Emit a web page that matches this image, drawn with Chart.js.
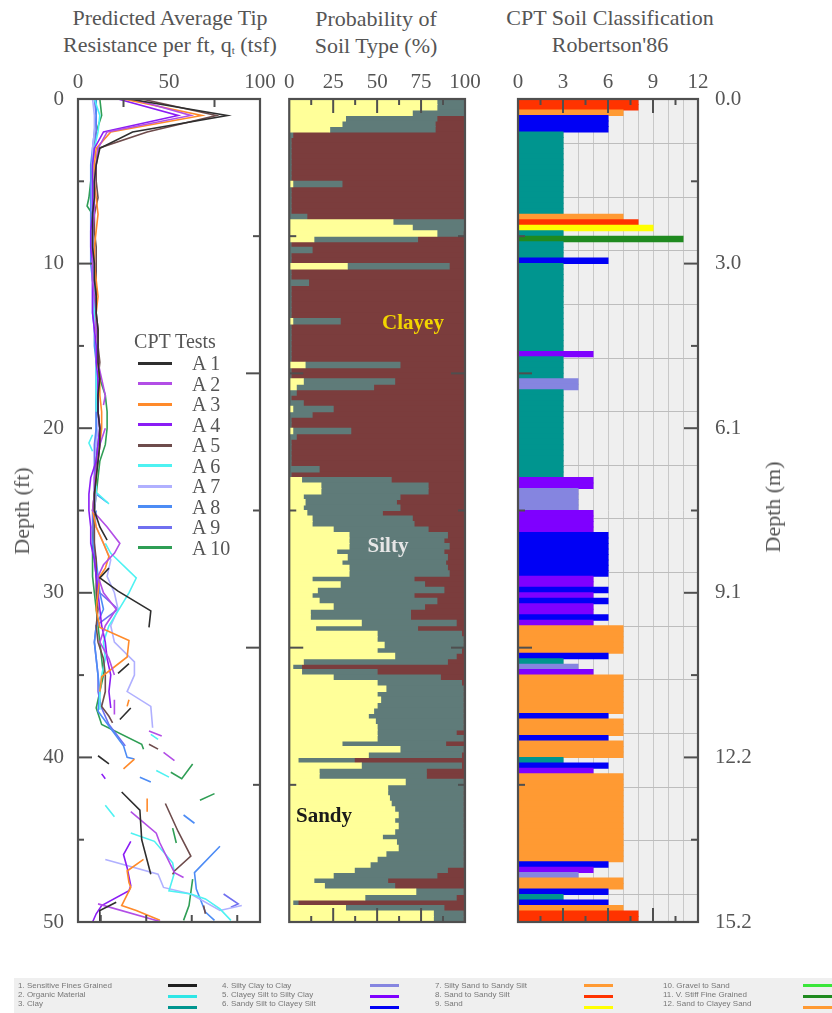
<!DOCTYPE html>
<html>
<head>
<meta charset="utf-8">
<script src="https://cdn.jsdelivr.net/npm/chart.js@4.4.0/dist/chart.umd.min.js"></script>
<style>
  html, body { margin: 0; padding: 0; background: #fff; }
  body { width: 832px; height: 1013px; position: relative; overflow: hidden; font-family: "Liberation Serif", "DejaVu Serif", serif; color: #555; }
  canvas { position: absolute; }
  .ttl { position: absolute; text-align: center; font-size: 22px; line-height: 27px; color: #555; white-space: nowrap; }
  .ttl sub { font-size: 11px; vertical-align: -2px; }
  .vlab { position: absolute; font-size: 22px; color: #555; white-space: nowrap; transform: translate(-50%, -50%) rotate(-90deg); }
  .ann { position: absolute; font-weight: bold; font-size: 21px; white-space: nowrap; transform: translate(-50%, -50%); }
  #lg { position: absolute; left: 0; top: 0; }
  .lgi { position: absolute; font-size: 20px; line-height: 20px; color: #555; white-space: nowrap; }
  .lgl { position: absolute; height: 3px; }
  #blg { position: absolute; left: 14px; top: 978px; width: 818px; height: 35px; background: #efefef; }
  .bt { position: absolute; font-family: "Liberation Sans", Arial, sans-serif; font-size: 8px; line-height: 9px; color: #777; white-space: nowrap; filter: blur(0.4px); }
  .bl { position: absolute; height: 3px; width: 29px; filter: blur(0.5px); }
</style>
</head>
<body>
<div class="ttl" style="left:20px;top:4px;width:300px;">Predicted Average Tip<br>Resistance per ft, q<sub>t</sub> (tsf)</div>
<div class="ttl" style="left:276px;top:5px;width:200px;">Probability of<br>Soil Type (%)</div>
<div class="ttl" style="left:460px;top:4px;width:300px;">CPT Soil Classification<br>Robertson'86</div>

<canvas id="c1" width="280" height="892" style="left:0;top:60px;"></canvas>
<canvas id="c2" width="205" height="892" style="left:280px;top:60px;"></canvas>
<canvas id="c3" width="270" height="892" style="left:500px;top:60px;"></canvas>

<div class="vlab" style="left:22px;top:511px;">Depth (ft)</div>
<div class="vlab" style="left:773px;top:507px;">Depth (m)</div>

<div class="ann" style="left:413px;top:322px;color:#f2d500;">Clayey</div>
<div class="ann" style="left:388px;top:545px;color:#e6e6e6;">Silty</div>
<div class="ann" style="left:324px;top:815px;color:#1a1a1a;">Sandy</div>

<div id="lg"></div>
<div id="blg"></div>

<script>
// ---------------- DATA ----------------
// Left panel: predicted average tip resistance, [depth ft, q_t tsf], null = gap
const A1 = [[0,28],[1,82],[2,30],[3,12],[4,10],[5,9],[6,9],[7,8],[8,8],[9,8],[10,9],[11,9],[12,10],[13,10],[14,11],[15,11],[16,11],[17,12],[18,11],[19,11],[20,12],[21,12],[22,11],[23,10],[24,9],[25,9],[26,12],[26.8,16],null,[28.5,17],[29.1,12],[29.9,22],[31.1,40],[32.1,39],null,[34.3,28],[34.9,22],null,[37,29],[37.7,23],null,[39.9,11],[40.4,17],null,[42.1,24],[43.2,34],[45,35],[47.1,40],null,[48.8,21],[49.3,12],[50,12]];
const A2 = [[0,30],[1,62],[2,16],[3,11],[4,10],[5,9],[6,9],[7,9],[8,8],[9,8],[10,8],[11,8],[12,9],[13,10],[14,10],[15,11],[16,11],[17,13],[18,15],[18.6,14],null,[20,15],[21,12],[22,11],[23,9],[24,9],[25,8],[26,16],[27,23],[27.6,20],[28.3,14],[29,11],[30,14],[31,21],[32,15],[33,12],[34,17],[35,20],null,[36.5,20],[37.4,20],null,[38.4,39],[38.7,46],null,[39.7,47],[40.2,53],null,[43.3,29],[44.6,43],[45.2,45],[47,53],[47.3,58],null,[48.9,11],[50,46]];
const A3 = [[0,25],[1,68],[2,18],[3,10],[4,9],[5,9],[6,10],[7,11],[8,10],[9,9],[10,9],[11,10],[12,11],[13,10],[14,10],[15,11],[16,11],[17,12],[18,12],[19,13],[20,13],[21,12],[22,11],[23,10],[24,9],[25,8],[26,10],[27,14],[27.8,17],[28.5,15],[29,12],[30,11],[31,10],[32.1,12],[32.9,28],[33.9,27],[35.1,13],[36,12],null,[36.5,28],[36.9,27],null,[40.1,31],[40.7,25],null,[42.5,38],[43.3,38],null,[46.2,36],[46.9,27],[47.6,28],[47.9,29],[49,24],[49.3,32],[49.9,45]];
const A4 = [[0,22],[1,55],[2,14],[3,9],[4,8],[5,8],[6,8],[7,8],[8,7],[9,7],[10,8],[11,8],[12,8],[13,8],[14,9],[15,10],[16,10],[17,11],[18,11],[19,11],[20,12],[21,11],[22,10],[23,7],[24,6],[25,6],[26,7],[27,7],[28,9],[29,10],[30,11],[31,12],[32,13],[33,15],[34,16],[35,18],[36,17],[37,18],null,[41,13],[41.3,15],null,[45.1,29],[45.9,25],[46.7,27],[47.8,29],[48.1,28],[49,13],[49.5,10],[50,8]];
const A5 = [[0,35],[1,76],[2,38],[3,11],[4,10],[5,10],[6,11],[7,9],[8,9],[9,10],[10,10],[11,10],[12,10],[13,10],[14,11],[15,11],[16,12],[17,11],[18,11],[19,11],[20,12],[21,11],[22,10],[23,10],[24,9],[25,9],[26,9],[27,9],[28,10],[29,10],[30,10],[31,11],[32,10],[33,11],[34,14],[35,15],[36,15],[36.9,13],[37.5,17],[37.9,19],null,[39.2,39],[39.5,44],null,[42.8,48],[44.5,55],[46,62],[46.9,53],[47.1,52],null,[49,69],[49.5,70]];
const A6 = [[0,9],[1,12],[2,11],[3,9],[4,8],[5,8],[6,8],[7,8],[8,8],[9,8],[10,8],[11,9],[12,9],[13,9],[14,10],[15,10],[16,10],[17,10],[18,10],[19,10],null,[20.4,8],[20.9,6],[21.4,8],null,[22,11],[23,10],[23.9,10],[24.6,17],null,[27,15],[27.6,18],[29.1,32],[30,28],[31.1,22],[32,17],[33,14],[34,15],[35,13],[36,12],[37.1,12],null,[38.6,40],[38.9,44],null,[40.8,43],[41.2,50],null,[42.9,15],[43.6,20],null,[44.6,29],[45.1,42],[46.4,52],[47,53],[48.1,50],[48.3,62],[48.6,70],[49.2,78],[49.9,84]];
const A7 = [[0,8],[1,9],[2,9],[3,8],[4,8],[5,8],[6,8],[7,8],[8,8],[9,8],[10,8],[11,8],[12,9],[13,9],[14,9],[15,10],[16,10],[17,10],[18,10],[19,11],[20,11],[21,10],[22,10],[23,10],[24,10],[25,9],[26,10],[27,14],[28,18],[29,16],[30,20],[31,22],[32,18],[33,20],[34.2,31],[35,31],[36,27],[36.9,40],[38.2,41],null,[46.2,15],[47.1,44],[47.9,47],[48.3,62],[49.3,78],[49,90]];
const A8 = [[0,10],[1,10],[2,9],[3,8],[4,7],[5,7],[6,7],[7,7],[8,7],[9,7],[10,7],[11,8],[12,8],[13,8],[14,9],[15,9],[16,10],[17,10],[18,10],[19,10],[20,10],[21,10],[22,10],[23,10],[24,10],[24.5,16],null,[25,10],[26,9],[27,8],[28,10],[29,11],[30,12],[31,14],[32,10],[33,9],[34,10],[35,11],[36,12],[37.2,11],[38.4,19],[39.3,25],[40,27],[40.1,31],null,[41.2,34],[41.5,40],null,[43.5,58],[44,64],null,[45.4,78],[47,64],[48,65],[49.4,70],[49.9,75]];
const A9 = [[0,9],[1,10],[2,10],[3,9],[4,8],[5,8],[6,8],[7,8],[8,8],[9,8],[10,8],[11,8],[12,9],[13,9],[14,9],[15,10],[16,10],[17,10],[18,10],[19,10],[20,10],[21,9],[22,9],[23,9],[24,9],[25,8],[26,8],[27,9],[28,9],[29,10],[30,12],[31,22],[32,10],[33,9],[34,10],[35,11],[36,11],[37,13],[38,17],[39.3,26],null,[48.3,80],[48.9,88],[49.1,84]];
const A10 = [[0,12],[1,13],[2,10],[3,9],[4,8],[5,7],[6,6],[6.5,5],[7,8],[8,8],[9,8],[10,8],[11,9],[12,9],[13,10],[14,10],[15,11],[16,11],[17,12],[18,15],[19,16],[20,16],[21,15],[22,12],[23,11],[24,10],[25,9],[26,8],[27,8],[28,8],[29,8],[30,9],[31,10],[32,11],[33,12],[34,13],[35,14],[36,12],[37,10],[38,13],[39.2,35],[39.5,36],null,[40.9,51],[41.3,57],[40.4,63],null,[42.2,75],[42.6,67],null,[44.3,52],[45.2,54],null,[47.4,63],[49,61],[49.9,58]];
const seriesNames = ['A 1','A 2','A 3','A 4','A 5','A 6','A 7','A 8','A 9','A 10'];
const seriesData = [A1, A2, A3, A4, A5, A6, A7, A8, A9, A10];

// Middle panel: probability of soil type (%) for rows of 1/3 ft, top to bottom
const sandyPct = [
  84,84,70,32,30,23,0,0,0,0,   0,0,0,0,0,2,0,0,0,0,
  0,0,59,70,84,14,0,0,0,0,     33,0,0,0,0,0,0,0,0,0,
  2,0,0,0,0,0,0,0,9,0,         0,8,4,0,0,0,2,0,0,0,
  2,0,0,0,0,0,0,0,0,7,         18,18,8,9,8,10,13,13,25,34,
  34,34,27,33,30,34,34,13,29,16, 13,17,25,12,12,41,15,50,50,54,
  50,60,8,2,7,25,50,55,50,52,  50,48,45,49,50,50,50,30,63,45,
  5,41,17,17,66,56,56,57,58,60, 62,60,62,60,53,61,62,55,50,46,
  37,25,14,20,72,43,2,32,82,82];
const siltyPct = [
  16,16,30,52,53,60,2,1,1,1,   1,1,1,1,1,28,1,1,1,1,
  1,10,41,30,15,59,1,13,1,1,   58,1,1,11,1,1,1,1,1,1,
  27,1,1,1,1,1,1,1,54,1,       1,52,44,4,1,8,23,13,1,1,
  33,4,1,1,1,1,1,17,1,51,      61,61,55,52,55,43,57,58,54,56,
  54,57,61,57,59,56,57,58,48,72, 58,67,52,57,57,54,58,48,49,45,
  48,35,82,5,43,61,48,44,49,47, 49,51,54,50,49,45,49,59,36,53,
  32,57,61,61,33,43,43,42,41,39, 37,39,37,39,46,38,37,44,49,53,
  53,59,42,40,27,52,3,56,17,17];
const clayeyPct = [
  0,0,0,16,17,17,98,99,99,99,  99,99,99,99,99,70,99,99,99,99,
  99,90,0,0,1,27,99,87,99,99,  9,99,99,89,99,99,99,99,99,99,
  71,99,99,99,99,99,99,99,37,99, 99,40,52,96,99,92,75,87,99,99,
  65,96,99,99,99,99,99,83,99,42, 21,21,37,39,37,47,30,29,21,10,
  12,9,12,10,11,10,9,29,23,12,  29,16,23,31,31,5,27,2,1,1,
  2,5,10,93,50,14,2,1,1,1,      1,1,1,1,1,5,1,11,1,2,
  63,2,22,22,1,1,1,1,1,1,       1,1,1,1,1,1,1,1,1,1,
  10,16,44,40,1,5,95,12,1,1];

// Right panel: Robertson'86 soil class per 1/3-ft row
const soilClass = [
  8,8,7,6,6,6,3,3,3,3,  3,3,3,3,3,3,3,3,3,3,
  3,7,8,9,3,11,3,3,3,6, 3,3,3,3,3,3,3,3,3,3,
  3,3,3,3,3,3,5,3,3,3,  3,4,4,3,3,3,3,3,3,3,
  3,3,3,3,3,3,3,3,3,5,  5,4,4,4,4,5,5,5,5,6,
  6,6,6,6,6,6,6,5,5,6,  5,6,5,5,6,5,7,7,7,7,
  7,6,3,4,5,7,7,7,7,7,  7,7,6,7,7,7,6,7,7,7,
  3,6,5,7,7,7,7,7,7,7,  7,7,7,7,7,7,7,7,7,6,
  5,4,7,7,6,3,6,7,8,8];
const soilClassNames = ['1.  Sensitive Fines Grained','2.  Organic Material','3.  Clay','4.  Silty Clay to Clay','5.  Clayey Silt to Silty Clay','6.  Sandy Silt to Clayey Silt','7.  Silty Sand to Sandy Silt','8.  Sand to Sandy Silt','9.  Sand','10. Gravel to Sand','11. V. Stiff Fine Grained','12. Sand to Clayey Sand'];
const depthFtTicks = [0, 10, 20, 30, 40, 50];
const depthMLabels = ['0.0','3.0','6.1','9.1','12.2','15.2'];
const ROW_FT = 1/3;
const rowLabels = soilClass.map((_, i) => (i * ROW_FT).toFixed(2));

// ---------------- STYLE ----------------
const seriesColors = ['#2e2e2e','#b24ee6','#ff8a2a','#8a1cf5','#6e4c4c','#4ef2f2','#b0b0ff','#4d8cf5','#7070f0','#2f9e55'];
const classColors = {1:'#1e1e1e',2:'#2ee6e6',3:'#00958f',4:'#8585e0',5:'#7f00ff',6:'#0000f5',7:'#ff9a33',8:'#ff3300',9:'#ffff00',10:'#3ae63a',11:'#1f8a1f',12:'#ff9a33'};
const soilTypeColors = {sandy:'#ffff99', silty:'#5f7b79', clayey:'#7b3d3d'};
const gridLinesFt = [1.08,4.34,7.6,10.85,14.11,17.37,20.63,23.88,27.14,30.4,33.66,36.91,40.17,43.43,46.69];
const FONT = { family: "'Liberation Serif', 'DejaVu Serif', serif", size: 21 };
const TXT = '#555';

const framePlugin = {
  id: 'frame',
  beforeDraw(chart, args, opts) {
    if (opts.bg) {
      const { ctx, chartArea: a } = chart;
      ctx.save(); ctx.fillStyle = opts.bg; ctx.fillRect(a.left, a.top, a.width, a.height); ctx.restore();
    }
  },
  afterDraw(chart, args, opts) {
    const { ctx, chartArea: a } = chart;
    ctx.save();
    ctx.strokeStyle = '#4f4f4f';
    ctx.lineWidth = 2;
    (opts.ticks || []).forEach(t => {
      const s = chart.scales[t.scale];
      t.values.forEach(v => {
        const p = s.getPixelForValue(v);
        ctx.beginPath();
        if (t.side === 'top') { ctx.moveTo(p, a.top); ctx.lineTo(p, a.top + t.len); }
        else if (t.side === 'bottom') { ctx.moveTo(p, a.bottom); ctx.lineTo(p, a.bottom - t.len); }
        else if (t.side === 'left') { ctx.moveTo(a.left, p); ctx.lineTo(a.left + t.len, p); }
        else { ctx.moveTo(a.right, p); ctx.lineTo(a.right - t.len, p); }
        ctx.stroke();
      });
    });
    ctx.lineWidth = 2.2;
    ctx.strokeRect(a.left, a.top, a.width, a.height);
    ctx.restore();
  }
};

const ft8 = [8.333, 25, 41.667], ft16 = [16.667, 33.333];
const noGrid = { display: false, drawTicks: false };

// ---------------- LEFT CHART ----------------
new Chart(document.getElementById('c1'), {
  type: 'scatter',
  data: {
    datasets: seriesData.map((arr, i) => ({
      label: seriesNames[i],
      data: arr.map(p => p ? { x: p[1], y: p[0] } : { x: null, y: null }),
      showLine: true, spanGaps: false, pointRadius: 0,
      borderColor: seriesColors[i], borderWidth: 1.6, tension: 0
    }))
  },
  options: {
    responsive: false, animation: false,
    layout: { padding: { left: 0, right: 20, top: 0, bottom: 30 } },
    scales: {
      x: { type: 'linear', position: 'top', min: 0, max: 100, offset: false,
           ticks: { stepSize: 50, font: FONT, color: TXT, padding: 4, maxRotation: 0 },
           grid: noGrid, border: { display: false },
           afterFit: s => { s.height = 39; } },
      y: { type: 'linear', position: 'left', min: 0, max: 50, reverse: true, offset: false,
           ticks: { stepSize: 10, font: FONT, color: TXT, padding: 14 },
           grid: noGrid, border: { display: false },
           afterFit: s => { s.width = 78; } }
    },
    plugins: {
      legend: { display: false }, tooltip: { enabled: false },
      frame: { ticks: [
        { scale: 'x', side: 'top', values: [25, 75], len: 8 },
        { scale: 'x', side: 'bottom', values: [12.5, 37.5, 62.5, 87.5], len: 7 },
        { scale: 'y', side: 'left', values: [5, 15, 25, 35, 45], len: 6 },
        { scale: 'y', side: 'left', values: [10, 20, 30, 40], len: 14 },
        { scale: 'y', side: 'right', values: ft8, len: 7 },
        { scale: 'y', side: 'right', values: ft16, len: 14 }
      ] }
    }
  },
  plugins: [framePlugin]
});

// ---------------- MIDDLE CHART ----------------
new Chart(document.getElementById('c2'), {
  type: 'bar',
  data: {
    labels: rowLabels,
    datasets: [
      { label: 'Sandy', data: sandyPct, backgroundColor: soilTypeColors.sandy },
      { label: 'Silty', data: siltyPct, backgroundColor: soilTypeColors.silty },
      { label: 'Clayey', data: clayeyPct, backgroundColor: soilTypeColors.clayey }
    ]
  },
  options: {
    indexAxis: 'y', responsive: false, animation: false,
    datasets: { bar: { barPercentage: 1, categoryPercentage: 1, borderWidth: 0, inflateAmount: 0.5 } },
    layout: { padding: { left: 8, right: 20, top: 0, bottom: 30 } },
    scales: {
      x: { type: 'linear', position: 'top', stacked: true, min: 0, max: 100,
           ticks: { stepSize: 25, font: FONT, color: TXT, padding: 4, maxRotation: 0 },
           grid: noGrid, border: { display: false },
           afterFit: s => { s.height = 39; } },
      y: { type: 'category', stacked: true, display: false },
      d: { type: 'linear', axis: 'y', min: 0, max: 50, reverse: true, offset: false, display: false }
    },
    plugins: {
      legend: { display: false }, tooltip: { enabled: false },
      frame: { ticks: [
        { scale: 'x', side: 'top', values: [12.5, 37.5, 62.5, 87.5], len: 6 },
        { scale: 'x', side: 'top', values: [25, 50, 75], len: 14 },
        { scale: 'x', side: 'bottom', values: [12.5, 37.5, 62.5, 87.5], len: 6 },
        { scale: 'x', side: 'bottom', values: [25, 50, 75], len: 14 },
        { scale: 'd', side: 'left', values: ft8, len: 7 },
        { scale: 'd', side: 'left', values: ft16, len: 14 },
        { scale: 'd', side: 'right', values: ft8, len: 7 },
        { scale: 'd', side: 'right', values: ft16, len: 14 }
      ] }
    }
  },
  plugins: [framePlugin]
});

// ---------------- RIGHT CHART ----------------
new Chart(document.getElementById('c3'), {
  type: 'bar',
  data: {
    labels: rowLabels,
    datasets: [
      { label: 'Soil class', data: soilClass, backgroundColor: soilClass.map(c => classColors[c]) }
    ]
  },
  options: {
    indexAxis: 'y', responsive: false, animation: false,
    datasets: { bar: { barPercentage: 1, categoryPercentage: 1, borderWidth: 0, inflateAmount: 0.5 } },
    layout: { padding: { left: 18, right: 0, top: 0, bottom: 30 } },
    scales: {
      x: { type: 'linear', position: 'top', min: 0, max: 12,
           ticks: { stepSize: 1, autoSkip: false, font: FONT, color: TXT, padding: 4, maxRotation: 0,
                    callback: v => (v % 3 === 0 ? String(v) : '') },
           grid: { display: true, color: '#c8c8c8', lineWidth: 1, drawTicks: false }, border: { display: false },
           afterFit: s => { s.height = 39; } },
      y: { type: 'category', display: false },
      g: { type: 'linear', axis: 'y', position: 'left', min: 0, max: 50, reverse: true, offset: false,
           ticks: { display: false },
           grid: { display: true, color: '#bdbdbd', lineWidth: 1, drawTicks: false }, border: { display: false },
           afterBuildTicks: s => { s.ticks = gridLinesFt.map(v => ({ value: v })); },
           afterFit: s => { s.width = 0; } },
      d: { type: 'linear', axis: 'y', position: 'right', min: 0, max: 50, reverse: true, offset: false,
           afterBuildTicks: s => { s.ticks = depthFtTicks.map(v => ({ value: v })); },
           ticks: { font: FONT, color: TXT, padding: 17,
                    callback: v => depthMLabels[depthFtTicks.indexOf(v)] },
           grid: noGrid, border: { display: false },
           afterFit: s => { s.width = 72; } }
    },
    plugins: {
      legend: { display: false }, tooltip: { enabled: false },
      frame: { bg: '#efefef', ticks: [
        { scale: 'x', side: 'top', values: [1.5, 4.5, 7.5, 10.5], len: 6 },
        { scale: 'x', side: 'top', values: [3, 6, 9], len: 14 },
        { scale: 'x', side: 'bottom', values: [1.5, 4.5, 7.5, 10.5], len: 6 },
        { scale: 'x', side: 'bottom', values: [3, 6, 9], len: 14 },
        { scale: 'd', side: 'left', values: ft8, len: 7 },
        { scale: 'd', side: 'left', values: ft16, len: 14 },
        { scale: 'd', side: 'right', values: [5, 15, 25, 35, 45], len: 7 },
        { scale: 'd', side: 'right', values: [10, 20, 30, 40], len: 14 }
      ] }
    }
  },
  plugins: [framePlugin]
});

// ---------------- LEGENDS (HTML) ----------------
(function () {
  const lg = document.getElementById('lg');
  let h = '<div class="lgi" style="left:125px;top:331px;width:100px;text-align:center;">CPT Tests</div>';
  seriesNames.forEach((n, i) => {
    const yc = 363 + 20.5 * i;
    h += '<div class="lgl" style="left:138px;top:' + (yc - 1.5) + 'px;width:34px;background:' + seriesColors[i] + ';"></div>';
    h += '<div class="lgi" style="left:192px;top:' + (yc - 10) + 'px;">' + n + '</div>';
  });
  lg.innerHTML = h;

  const blg = document.getElementById('blg');
  const colText = [4, 208, 421, 649];
  const colLine = [154, 356, 570, 789];
  const rowText = [3, 12, 21];
  const rowLine = [6, 17, 28];
  let b = '';
  soilClassNames.forEach((n, i) => {
    const c = Math.floor(i / 3), r = i % 3;
    b += '<div class="bt" style="left:' + colText[c] + 'px;top:' + rowText[r] + 'px;">' + n + '</div>';
    b += '<div class="bl" style="left:' + colLine[c] + 'px;top:' + rowLine[r] + 'px;background:' + classColors[i + 1] + ';"></div>';
  });
  blg.innerHTML = b;
})();
</script>
</body>
</html>
